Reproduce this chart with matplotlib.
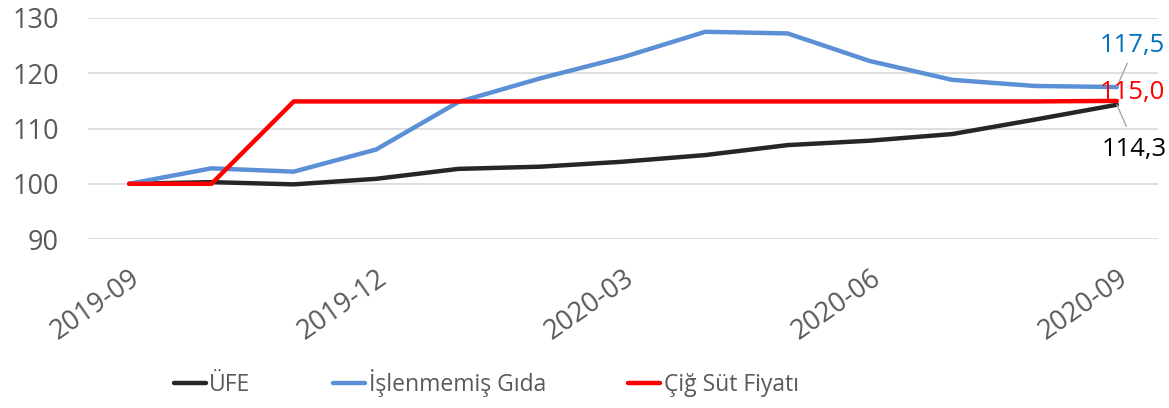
import matplotlib.pyplot as plt
import numpy as np

plt.rcParams['font.family'] = ['Open Sans', 'DejaVu Sans']

months = ['2019-09', '2019-10', '2019-11', '2019-12', '2020-01', '2020-02', '2020-03',
          '2020-04', '2020-05', '2020-06', '2020-07', '2020-08', '2020-09']
ufe = [100.0, 100.3, 99.9, 100.9, 102.7, 103.1, 104.0, 105.2, 107.0, 107.8, 109.0, 111.6, 114.3]
islenmemis_gida = [100.0, 102.8, 102.2, 106.2, 114.8, 119.1, 122.9, 127.5, 127.2, 122.2, 118.8, 117.7, 117.5]
cig_sut = [100.0, 100.0, 114.9, 114.9, 114.9, 114.9, 114.9, 114.9, 114.9, 114.9, 114.9, 114.9, 115.0]

end_labels = ['114,3', '117,5', '115,0']
tick_every = 3

fig = plt.figure(figsize=(11.69, 4.08), dpi=100)
ax = fig.add_axes([0.0753, 0.414, 0.9153, 0.542])

x = np.arange(len(months))
ax.plot(x, ufe, color='#262626', lw=3.2, label='ÜFE', solid_capstyle='round')
ax.plot(x, islenmemis_gida, color='#5B8FD6', lw=3.2, label='İşlenmemiş Gıda', solid_capstyle='round')
ax.plot(x, cig_sut, color='#FF0000', lw=3.2, label='Çiğ Süt Fiyatı', solid_capstyle='round')

ax.set_xlim(-0.5, len(months) - 0.5)
ax.set_ylim(90, 130)
ax.set_yticks([90, 100, 110, 120, 130])
ax.yaxis.grid(True, color='#D9D9D9', lw=1.2)
ax.set_axisbelow(True)
for s in ax.spines.values():
    s.set_visible(False)

ax.set_xticks(x[::tick_every])
ax.set_xticklabels(months[::tick_every], rotation=35, ha='right', va='top', rotation_mode='anchor')
ax.tick_params(axis='both', length=0, labelsize=19.5, labelcolor='#595959')
ax.tick_params(axis='x', pad=18)
ax.tick_params(axis='y', pad=21)

last = len(months) - 1
# end-of-series labels with leader lines
ax.annotate(end_labels[1], xy=(last, islenmemis_gida[-1]), xytext=(-12, 30), textcoords='offset points',
            color='#0070C0', fontsize=18.5, va='center', ha='left', annotation_clip=False,
            arrowprops=dict(arrowstyle='-', color='#A6A6A6', lw=1, shrinkA=2, shrinkB=0,
                            relpos=(0.45, 0.0)))
ax.annotate(end_labels[2], xy=(last, cig_sut[-1]), xytext=(-12, 6), textcoords='offset points',
            color='#FF0000', fontsize=18.5, va='center', ha='left', annotation_clip=False)
ax.annotate(end_labels[0], xy=(last, ufe[-1]), xytext=(-11, -32), textcoords='offset points',
            color='#000000', fontsize=18.5, va='center', ha='left', annotation_clip=False,
            arrowprops=dict(arrowstyle='-', color='#A6A6A6', lw=1, shrinkA=6, shrinkB=0,
                            relpos=(0.45, 1.0)))

leg = fig.legend(loc='center', bbox_to_anchor=(0.416, 0.061), ncol=3, frameon=False,
                 fontsize=16.5, handlelength=1.4, handletextpad=0.15, columnspacing=3.6)
for t in leg.get_texts():
    t.set_color('#595959')

fig.savefig('out.png', dpi=100)
